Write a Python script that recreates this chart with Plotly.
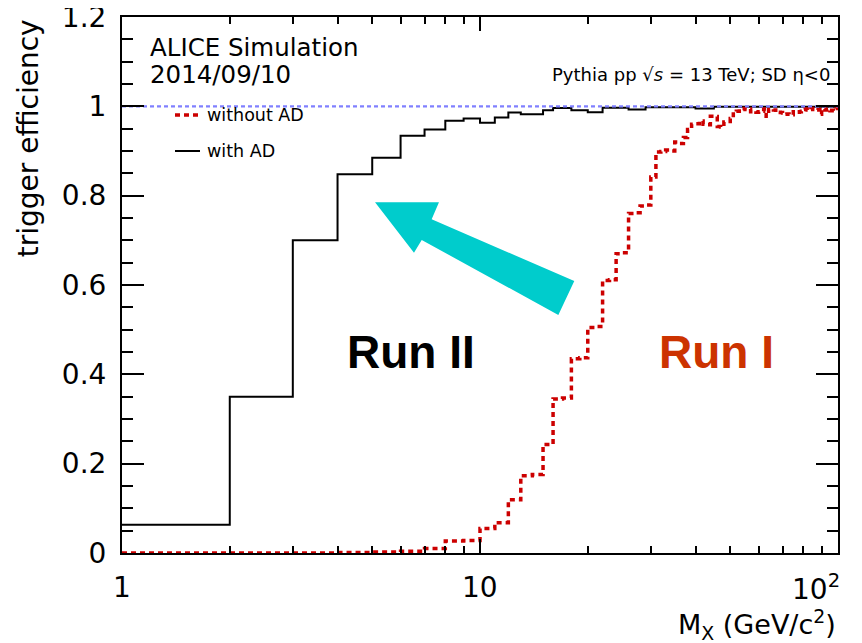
import numpy as np
import plotly.graph_objects as go

# ---------------- data ----------------
# bin edges in M_X (GeV/c^2): 1 GeV wide bins from 1 to 100
bin_edges = list(range(1, 101))

eff_with_ad = [
    0.063, 0.350, 0.700, 0.848, 0.885, 0.934, 0.948, 0.968, 0.973, 0.963,
    0.975, 0.986, 0.982, 0.982, 0.991, 0.996, 0.996, 0.991, 0.991, 0.987,
    0.987, 0.997, 0.997, 0.997, 0.997, 0.993, 0.993, 0.993, 0.998, 0.998,
    0.998, 0.998, 0.998, 0.998, 0.998, 0.998, 0.998, 0.998, 0.998, 0.995,
    0.995, 0.995, 0.995, 0.995, 0.999, 0.999, 0.999, 0.999, 0.999, 0.999,
    0.999, 0.999, 0.999, 0.999, 0.999, 0.999, 0.999, 0.999, 0.999, 0.999,
    0.999, 0.999, 0.999, 0.999, 0.999, 0.999, 0.999, 0.999, 0.999, 0.999,
    0.999, 0.999, 0.999, 0.999, 0.999, 0.999, 0.999, 0.999, 0.999, 0.999,
    0.999, 0.999, 0.999, 0.999, 0.999, 0.999, 0.999, 0.999, 0.999, 0.999,
    0.999, 0.999, 0.999, 0.999, 0.999, 0.999, 0.999, 0.999, 0.999,
]

eff_without_ad = [
    0.000, 0.000, 0.000, 0.001, 0.002, 0.004, 0.010, 0.027, 0.028, 0.055,
    0.068, 0.119, 0.173, 0.176, 0.243, 0.345, 0.347, 0.435, 0.437, 0.505,
    0.507, 0.610, 0.612, 0.670, 0.672, 0.760, 0.762, 0.777, 0.779, 0.842,
    0.898, 0.899, 0.902, 0.900, 0.920, 0.917, 0.930, 0.948, 0.960, 0.961,
    0.967, 0.960, 0.959, 0.978, 0.977, 0.955, 0.954, 0.965, 0.966, 0.973,
    0.988, 0.989, 0.994, 0.995, 0.993, 0.994, 0.988, 0.989, 0.987, 0.988,
    0.989, 0.994, 0.978, 0.993, 0.994, 0.992, 0.986, 0.987, 0.986, 0.985,
    0.982, 0.983, 0.982, 0.981, 0.988, 0.989, 0.987, 0.988, 0.989, 0.993,
    0.994, 0.992, 0.993, 0.995, 0.993, 0.994, 0.992, 0.993, 0.982, 0.993,
    0.994, 0.992, 0.993, 0.994, 0.990, 0.991, 0.990, 0.995, 0.996,
]

reference_level = [1.0, 1.0]
reference_x = [1, 100]

y_tick_vals = [0, 0.2, 0.4, 0.6, 0.8, 1.0, 1.2]
y_tick_text = ["0", "0.2", "0.4", "0.6", "0.8", "1", "1.2"]
x_tick_vals = [1, 10, 100]
x_tick_text = ["1", "10", "10<sup>2</sup>"]
x_minor_vals = [2, 3, 4, 5, 6, 7, 8, 9, 20, 30, 40, 50, 60, 70, 80, 90]

series_names = ["without AD", "with AD"]

# ---------------- figure ----------------
def step_xy(edges, vals):
    xs = list(edges[:-1]) + [edges[-1]]
    ys = list(vals) + [vals[-1]]
    return xs, ys

RED = "#cc0000"
FONT = "DejaVu Sans"

fig = go.Figure()

xb, yb = step_xy(bin_edges, eff_with_ad)
fig.add_trace(go.Scatter(x=xb, y=yb, mode="lines", line_shape="hv",
                         line=dict(color="black", width=2), name="with AD",
                         showlegend=False))

xr, yr = step_xy(bin_edges, eff_without_ad)
fig.add_trace(go.Scatter(x=xr, y=yr, mode="lines", line_shape="hv",
                         line=dict(color=RED, width=3.5, dash="5px,4px"),
                         name="without AD", showlegend=False))

fig.add_trace(go.Scatter(x=reference_x, y=reference_level, mode="lines",
                         line=dict(color="#8080ff", width=2.2, dash="4px,3px"),
                         showlegend=False, hoverinfo="skip"))

# page body has an 8px default margin -> figure is drawn at (8, 8)
OFF = 8
W, H = 862 - OFF, 643 - OFF
PLOT_L, PLOT_R, PLOT_T, PLOT_B = 122, 838, 17, 553   # in window pixels
ML, MR, MT, MB = PLOT_L - OFF, 862 - PLOT_R, PLOT_T - OFF, 643 - PLOT_B
PW, PH = PLOT_R - PLOT_L, PLOT_B - PLOT_T


def px2paper(px, py):
    return (px - PLOT_L) / PW, (PLOT_B - py) / PH


annotations = []

# x tick labels
for v, t in zip(x_tick_vals, x_tick_text):
    ann = dict(x=np.log10(v), y=-0.064, xref="x", yref="paper", text=t,
               showarrow=False, font=dict(family=FONT, size=28, color="black"),
               xanchor="center", yanchor="middle")
    if v == 100:
        ann.update(xanchor="right", xshift=4)
    annotations.append(ann)

# axis titles
annotations.append(dict(x=1.0, y=-0.133, xref="paper", yref="paper",
                        text="M<sub>X</sub> (GeV/c<sup>2</sup>)", showarrow=False,
                        font=dict(family=FONT, size=27, color="black"),
                        xanchor="right", yanchor="middle"))
annotations.append(dict(x=-0.131, y=1.0, xref="paper", yref="paper",
                        text="trigger efficiency", showarrow=False, textangle=-90,
                        font=dict(family=FONT, size=28, color="black"),
                        xanchor="center", yanchor="top"))

# headers
x0, y0 = px2paper(148, 47)
annotations.append(dict(x=x0, y=y0, xref="paper", yref="paper", text="ALICE Simulation",
                        showarrow=False, font=dict(family=FONT, size=24.5, color="black"),
                        xanchor="left", yanchor="middle"))
x0, y0 = px2paper(148, 74)
annotations.append(dict(x=x0, y=y0, xref="paper", yref="paper", text="2014/09/10",
                        showarrow=False, font=dict(family=FONT, size=24.5, color="black"),
                        xanchor="left", yanchor="middle"))
x0, y0 = px2paper(832, 74)
annotations.append(dict(x=x0, y=y0, xref="paper", yref="paper",
                        text="Pythia pp √<i>s</i> = 13 TeV; SD η&lt;0",
                        showarrow=False, font=dict(family=FONT, size=18, color="black"),
                        xanchor="right", yanchor="middle"))

# legend (manual)
legend_rows = [(115, series_names[0]), (151, series_names[1])]
for py, name in legend_rows:
    x0, y0 = px2paper(205, py)
    annotations.append(dict(x=x0, y=y0, xref="paper", yref="paper", text=name,
                            showarrow=False, font=dict(family=FONT, size=17.5, color="black"),
                            xanchor="left", yanchor="middle"))

# Run labels
x0, y0 = px2paper(411, 352)
annotations.append(dict(x=x0, y=y0, xref="paper", yref="paper", text="<b>Run II</b>",
                        showarrow=False, font=dict(family="Liberation Sans", size=46, color="black"),
                        xanchor="center", yanchor="middle"))
x0, y0 = px2paper(716, 352)
annotations.append(dict(x=x0, y=y0, xref="paper", yref="paper", text="<b>Run I</b>",
                        showarrow=False, font=dict(family="Liberation Sans", size=46, color="#cc3300"),
                        xanchor="center", yanchor="middle"))

shapes = []
# legend samples
lx0, ly0 = px2paper(175, 115)
lx1, _ = px2paper(200, 115)
shapes.append(dict(type="line", xref="paper", yref="paper", x0=lx0, x1=lx1, y0=ly0, y1=ly0,
                   line=dict(color=RED, width=3.5, dash="5px,4px")))
lx0, ly0 = px2paper(175, 151)
shapes.append(dict(type="line", xref="paper", yref="paper", x0=lx0, x1=lx1, y0=ly0, y1=ly0,
                   line=dict(color="black", width=2)))

# cyan tapered arrow
arrow_px = [(375, 202.3), (439, 202.3), (431.7, 219.3), (574.3, 281),
            (558.3, 315), (421.7, 240), (414, 252.7)]
pts = [px2paper(a, b) for a, b in arrow_px]
path = "M " + " L ".join(f"{a:.4f},{b:.4f}" for a, b in pts) + " Z"
shapes.append(dict(type="path", xref="paper", yref="paper", path=path,
                   fillcolor="#00cccc", line=dict(width=0), layer="above"))

fig.update_layout(
    width=W, height=H,
    margin=dict(l=ML, r=MR, t=MT, b=MB, autoexpand=False),
    paper_bgcolor="white", plot_bgcolor="white",
    showlegend=False,
    annotations=annotations,
    shapes=shapes,
    xaxis=dict(type="log", range=[0, 2], showgrid=False, zeroline=False,
               automargin=False,
               showline=True, linecolor="black", linewidth=2, mirror="allticks",
               ticks="inside", ticklen=14, tickwidth=2, tickcolor="black",
               tickvals=x_tick_vals, showticklabels=False,
               minor=dict(ticks="inside", ticklen=7, tickwidth=2, tickcolor="black",
                          tickvals=x_minor_vals, showgrid=False)),
    yaxis=dict(range=[0, 1.2], showgrid=False, zeroline=False,
               automargin=False, ticklabeloverflow="allow",
               showline=True, linecolor="black", linewidth=2, mirror="allticks",
               ticks="inside", ticklen=22, tickwidth=2, tickcolor="black",
               tickvals=y_tick_vals, ticktext=y_tick_text,
               tickfont=dict(family=FONT, size=28, color="black"),
               ticklabelstandoff=8,
               minor=dict(ticks="inside", ticklen=11, tickwidth=2, tickcolor="black",
                          dtick=0.05, showgrid=False)),
)

fig.write_html("out.html")
